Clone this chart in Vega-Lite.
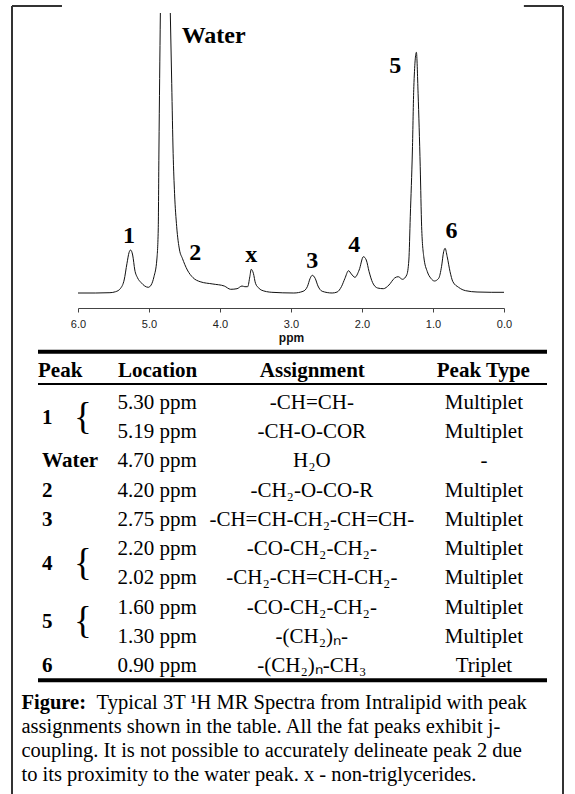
{
  "$schema": "https://vega.github.io/schema/vega-lite/v6.json",
  "width": 551,
  "height": 787,
  "autosize": "none",
  "padding": {"left": 12, "top": 6, "right": 12, "bottom": 1},
  "background": "white",
  "config": {"view": {"stroke": null}, "font": "Liberation Serif"},
  "datasets": {
    "spectrum": [
      {"seg": "a", "ppm": 6.00, "intensity": 0},
      {"seg": "a", "ppm": 5.75, "intensity": 0},
      {"seg": "a", "ppm": 5.55, "intensity": 0.3},
      {"seg": "a", "ppm": 5.47, "intensity": 1.3},
      {"seg": "a", "ppm": 5.40, "intensity": 4.7},
      {"seg": "a", "ppm": 5.35, "intensity": 13},
      {"seg": "a", "ppm": 5.31, "intensity": 29.7},
      {"seg": "a", "ppm": 5.28, "intensity": 40.7},
      {"seg": "a", "ppm": 5.26, "intensity": 43},
      {"seg": "a", "ppm": 5.23, "intensity": 38},
      {"seg": "a", "ppm": 5.20, "intensity": 23},
      {"seg": "a", "ppm": 5.16, "intensity": 15},
      {"seg": "a", "ppm": 5.11, "intensity": 10.3},
      {"seg": "a", "ppm": 5.06, "intensity": 7},
      {"seg": "a", "ppm": 5.01, "intensity": 5.7},
      {"seg": "a", "ppm": 4.97, "intensity": 8},
      {"seg": "a", "ppm": 4.93, "intensity": 16.3},
      {"seg": "a", "ppm": 4.89, "intensity": 33},
      {"seg": "a", "ppm": 4.87, "intensity": 63},
      {"seg": "a", "ppm": 4.86, "intensity": 143},
      {"seg": "a", "ppm": 4.84, "intensity": 280},
      {"seg": "b", "ppm": 4.70, "intensity": 280},
      {"seg": "b", "ppm": 4.68, "intensity": 209.7},
      {"seg": "b", "ppm": 4.66, "intensity": 139.7},
      {"seg": "b", "ppm": 4.64, "intensity": 99.7},
      {"seg": "b", "ppm": 4.61, "intensity": 66.3},
      {"seg": "b", "ppm": 4.57, "intensity": 43},
      {"seg": "b", "ppm": 4.53, "intensity": 34.7},
      {"seg": "b", "ppm": 4.46, "intensity": 23},
      {"seg": "b", "ppm": 4.38, "intensity": 15.3},
      {"seg": "b", "ppm": 4.28, "intensity": 11.3},
      {"seg": "b", "ppm": 4.10, "intensity": 9},
      {"seg": "b", "ppm": 3.94, "intensity": 7},
      {"seg": "b", "ppm": 3.85, "intensity": 3.7},
      {"seg": "b", "ppm": 3.76, "intensity": 4.3},
      {"seg": "b", "ppm": 3.69, "intensity": 7},
      {"seg": "b", "ppm": 3.65, "intensity": 6.3},
      {"seg": "b", "ppm": 3.61, "intensity": 6.3},
      {"seg": "b", "ppm": 3.58, "intensity": 16.3},
      {"seg": "b", "ppm": 3.56, "intensity": 23.7},
      {"seg": "b", "ppm": 3.53, "intensity": 19.7},
      {"seg": "b", "ppm": 3.50, "intensity": 9.7},
      {"seg": "b", "ppm": 3.45, "intensity": 4.7},
      {"seg": "b", "ppm": 3.42, "intensity": 3},
      {"seg": "b", "ppm": 3.27, "intensity": 0.7},
      {"seg": "b", "ppm": 2.96, "intensity": 0},
      {"seg": "b", "ppm": 2.83, "intensity": 1.7},
      {"seg": "b", "ppm": 2.77, "intensity": 6.3},
      {"seg": "b", "ppm": 2.73, "intensity": 14.7},
      {"seg": "b", "ppm": 2.70, "intensity": 17.7},
      {"seg": "b", "ppm": 2.66, "intensity": 14.7},
      {"seg": "b", "ppm": 2.62, "intensity": 7},
      {"seg": "b", "ppm": 2.56, "intensity": 1.7},
      {"seg": "b", "ppm": 2.42, "intensity": 0},
      {"seg": "b", "ppm": 2.35, "intensity": 1},
      {"seg": "b", "ppm": 2.29, "intensity": 6.3},
      {"seg": "b", "ppm": 2.24, "intensity": 14.7},
      {"seg": "b", "ppm": 2.19, "intensity": 22.3},
      {"seg": "b", "ppm": 2.15, "intensity": 19},
      {"seg": "b", "ppm": 2.10, "intensity": 15.7},
      {"seg": "b", "ppm": 2.04, "intensity": 23},
      {"seg": "b", "ppm": 1.98, "intensity": 36.3},
      {"seg": "b", "ppm": 1.94, "intensity": 33},
      {"seg": "b", "ppm": 1.90, "intensity": 21.3},
      {"seg": "b", "ppm": 1.85, "intensity": 10.3},
      {"seg": "b", "ppm": 1.78, "intensity": 5},
      {"seg": "b", "ppm": 1.70, "intensity": 4.3},
      {"seg": "b", "ppm": 1.62, "intensity": 8},
      {"seg": "b", "ppm": 1.54, "intensity": 15},
      {"seg": "b", "ppm": 1.49, "intensity": 16.3},
      {"seg": "b", "ppm": 1.43, "intensity": 13.7},
      {"seg": "b", "ppm": 1.37, "intensity": 18},
      {"seg": "b", "ppm": 1.34, "intensity": 33},
      {"seg": "b", "ppm": 1.32, "intensity": 76.3},
      {"seg": "b", "ppm": 1.29, "intensity": 143},
      {"seg": "b", "ppm": 1.27, "intensity": 206.3},
      {"seg": "b", "ppm": 1.234, "intensity": 240.7},
      {"seg": "b", "ppm": 1.21, "intensity": 199.7},
      {"seg": "b", "ppm": 1.18, "intensity": 126.3},
      {"seg": "b", "ppm": 1.16, "intensity": 66.3},
      {"seg": "b", "ppm": 1.13, "intensity": 36.3},
      {"seg": "b", "ppm": 1.08, "intensity": 21.3},
      {"seg": "b", "ppm": 1.03, "intensity": 14.7},
      {"seg": "b", "ppm": 0.98, "intensity": 12},
      {"seg": "b", "ppm": 0.92, "intensity": 14.7},
      {"seg": "b", "ppm": 0.88, "intensity": 26.3},
      {"seg": "b", "ppm": 0.85, "intensity": 41.3},
      {"seg": "b", "ppm": 0.83, "intensity": 44.7},
      {"seg": "b", "ppm": 0.80, "intensity": 36.3},
      {"seg": "b", "ppm": 0.76, "intensity": 21.3},
      {"seg": "b", "ppm": 0.72, "intensity": 11.3},
      {"seg": "b", "ppm": 0.64, "intensity": 5.7},
      {"seg": "b", "ppm": 0.54, "intensity": 2.3},
      {"seg": "b", "ppm": 0.38, "intensity": 1},
      {"seg": "b", "ppm": 0.18, "intensity": 0.7},
      {"seg": "b", "ppm": 0.00, "intensity": 0.7}
    ],
    "labels": [
      {"label": "Water", "ppm": 4.09, "intensity": 250},
      {"label": "1", "ppm": 5.28, "intensity": 50},
      {"label": "2", "ppm": 4.35, "intensity": 33},
      {"label": "x", "ppm": 3.56, "intensity": 31},
      {"label": "3", "ppm": 2.70, "intensity": 25},
      {"label": "4", "ppm": 2.11, "intensity": 41},
      {"label": "5", "ppm": 1.53, "intensity": 220},
      {"label": "6", "ppm": 0.74, "intensity": 55}
    ],
    "table": [
      {"row": 0, "peak": "1", "location": "5.30 ppm", "assignment": "-CH=CH-", "type": "Multiplet"},
      {"row": 1, "peak": "1", "location": "5.19 ppm", "assignment": "-CH-O-COR", "type": "Multiplet"},
      {"row": 2, "peak": "Water", "location": "4.70 ppm", "assignment": "H₂O", "type": "-"},
      {"row": 3, "peak": "2", "location": "4.20 ppm", "assignment": "-CH₂-O-CO-R", "type": "Multiplet"},
      {"row": 4, "peak": "3", "location": "2.75 ppm", "assignment": "-CH=CH-CH₂-CH=CH-", "type": "Multiplet"},
      {"row": 5, "peak": "4", "location": "2.20 ppm", "assignment": "-CO-CH₂-CH₂-", "type": "Multiplet"},
      {"row": 6, "peak": "4", "location": "2.02 ppm", "assignment": "-CH₂-CH=CH-CH₂-", "type": "Multiplet"},
      {"row": 7, "peak": "5", "location": "1.60 ppm", "assignment": "-CO-CH₂-CH₂-", "type": "Multiplet"},
      {"row": 8, "peak": "5", "location": "1.30 ppm", "assignment": "-(CH₂)ₙ-", "type": "Multiplet"},
      {"row": 9, "peak": "6", "location": "0.90 ppm", "assignment": "-(CH₂)ₙ-CH₃", "type": "Triplet"}
    ],
    "caption": [
      {"line": 1, "text": "Typical 3T ¹H MR Spectra from Intralipid with peak"},
      {"line": 2, "text": "assignments shown in the table. All the fat peaks exhibit j-"},
      {"line": 3, "text": "coupling. It is not possible to accurately delineate peak 2 due"},
      {"line": 4, "text": "to its proximity to the water peak. x - non-triglycerides."}
    ]
  },
  "layer": [
    {
      "data": {"name": "spectrum"},
      "mark": {"type": "line", "color": "#111", "strokeWidth": 1, "interpolate": "monotone"},
      "encoding": {
        "x": {"field": "ppm", "type": "quantitative",
          "scale": {"domain": [0, 6], "range": [492, 66], "nice": false, "zero": false},
          "axis": {"values": [0, 1, 2, 3, 4, 5, 6], "format": ".1f", "offset": -485, "title": "ppm", "grid": false,
            "domainColor": "#444", "tickColor": "#444", "tickSize": 4, "labelFont": "Liberation Sans", "labelFontSize": 11,
            "labelColor": "#222", "labelPadding": 6, "titleFont": "Liberation Sans", "titleFontSize": 12, "titleFontWeight": "bold",
            "titleColor": "#111", "titlePadding": 3, "labelFlush": false}},
        "y": {"field": "intensity", "type": "quantitative", "scale": {"domain": [0, 280], "range": [287, 7], "nice": false, "zero": false}, "axis": null},
        "detail": {"field": "seg", "type": "nominal"}
      }
    },
    {
      "data": {"name": "labels"},
      "mark": {"type": "text", "font": "Liberation Serif", "fontWeight": "bold", "fontSize": 24, "baseline": "alphabetic", "align": "center", "color": "black"},
      "encoding": {
        "x": {"field": "ppm", "type": "quantitative", "scale": {"domain": [0, 6], "range": [492, 66], "nice": false, "zero": false}, "axis": null},
        "y": {"field": "intensity", "type": "quantitative", "scale": {"domain": [0, 280], "range": [287, 7], "nice": false, "zero": false}, "axis": null},
        "text": {"field": "label"}
      }
    },
    {
      "data": {"values": [{}]},
      "mark": {"type": "rule", "color": "black", "strokeWidth": 4},
      "encoding": {
        "x": {"datum": 0, "type": "quantitative", "scale": {"domain": [0, 100], "range": [26, 535], "nice": false, "zero": false}, "axis": null},
        "x2": {"datum": 100},
        "y": {"datum": -1.75, "type": "quantitative", "scale": {"domain": [0, 9], "range": [397, 660], "nice": false, "zero": false}, "axis": null}
      }
    },
    {
      "data": {"values": [{}]},
      "mark": {"type": "rule", "color": "black", "strokeWidth": 2},
      "encoding": {
        "x": {"datum": 0, "type": "quantitative", "scale": {"domain": [0, 100], "range": [26, 535], "nice": false, "zero": false}, "axis": null},
        "x2": {"datum": 100},
        "y": {"datum": -0.65, "type": "quantitative", "scale": {"domain": [0, 9], "range": [397, 660], "nice": false, "zero": false}, "axis": null}
      }
    },
    {
      "data": {"values": [{}]},
      "mark": {"type": "rule", "color": "black", "strokeWidth": 4},
      "encoding": {
        "x": {"datum": 0, "type": "quantitative", "scale": {"domain": [0, 100], "range": [26, 535], "nice": false, "zero": false}, "axis": null},
        "x2": {"datum": 100},
        "y": {"datum": 9.49, "type": "quantitative", "scale": {"domain": [0, 9], "range": [397, 660], "nice": false, "zero": false}, "axis": null}
      }
    },
    {
      "data": {"values": [{"h": "Peak"}]},
      "mark": {"type": "text", "font": "Liberation Serif", "fontWeight": "bold", "fontSize": 21, "align": "left", "baseline": "middle", "color": "black"},
      "encoding": {
        "x": {"datum": 0, "type": "quantitative", "scale": {"domain": [0, 100], "range": [26, 535], "nice": false, "zero": false}, "axis": null},
        "y": {"datum": -1.08, "type": "quantitative", "scale": {"domain": [0, 9], "range": [397, 660], "nice": false, "zero": false}, "axis": null},
        "text": {"field": "h"}
      }
    },
    {
      "data": {"values": [{"h": "Location"}]},
      "mark": {"type": "text", "font": "Liberation Serif", "fontWeight": "bold", "fontSize": 21, "align": "center", "baseline": "middle", "color": "black"},
      "encoding": {
        "x": {"datum": 23.5, "type": "quantitative", "scale": {"domain": [0, 100], "range": [26, 535], "nice": false, "zero": false}, "axis": null},
        "y": {"datum": -1.08, "type": "quantitative", "scale": {"domain": [0, 9], "range": [397, 660], "nice": false, "zero": false}, "axis": null},
        "text": {"field": "h"}
      }
    },
    {
      "data": {"values": [{"h": "Assignment"}]},
      "mark": {"type": "text", "font": "Liberation Serif", "fontWeight": "bold", "fontSize": 21, "align": "center", "baseline": "middle", "color": "black"},
      "encoding": {
        "x": {"datum": 53.9, "type": "quantitative", "scale": {"domain": [0, 100], "range": [26, 535], "nice": false, "zero": false}, "axis": null},
        "y": {"datum": -1.08, "type": "quantitative", "scale": {"domain": [0, 9], "range": [397, 660], "nice": false, "zero": false}, "axis": null},
        "text": {"field": "h"}
      }
    },
    {
      "data": {"values": [{"h": "Peak Type"}]},
      "mark": {"type": "text", "font": "Liberation Serif", "fontWeight": "bold", "fontSize": 21, "align": "center", "baseline": "middle", "color": "black"},
      "encoding": {
        "x": {"datum": 87.5, "type": "quantitative", "scale": {"domain": [0, 100], "range": [26, 535], "nice": false, "zero": false}, "axis": null},
        "y": {"datum": -1.08, "type": "quantitative", "scale": {"domain": [0, 9], "range": [397, 660], "nice": false, "zero": false}, "axis": null},
        "text": {"field": "h"}
      }
    },
    {
      "data": {"name": "table"},
      "transform": [{"aggregate": [{"op": "mean", "field": "row", "as": "mid"}], "groupby": ["peak"]}],
      "mark": {"type": "text", "font": "Liberation Serif", "fontWeight": "bold", "fontSize": 21, "align": "left", "baseline": "middle", "color": "black"},
      "encoding": {
        "x": {"datum": 0.8, "type": "quantitative", "scale": {"domain": [0, 100], "range": [26, 535], "nice": false, "zero": false}, "axis": null},
        "y": {"field": "mid", "type": "quantitative", "scale": {"domain": [0, 9], "range": [397, 660], "nice": false, "zero": false}, "axis": null},
        "text": {"field": "peak"}
      }
    },
    {
      "data": {"name": "table"},
      "transform": [
        {"aggregate": [{"op": "mean", "field": "row", "as": "mid"}, {"op": "count", "as": "n"}], "groupby": ["peak"]},
        {"filter": "datum.n > 1"}
      ],
      "mark": {"type": "text", "font": "Liberation Serif", "fontSize": 37, "align": "center", "baseline": "middle", "color": "black"},
      "encoding": {
        "x": {"datum": 8.84, "type": "quantitative", "scale": {"domain": [0, 100], "range": [26, 535], "nice": false, "zero": false}, "axis": null},
        "y": {"field": "mid", "type": "quantitative", "scale": {"domain": [0, 9], "range": [397, 660], "nice": false, "zero": false}, "axis": null},
        "text": {"value": "{"}
      }
    },
    {
      "data": {"name": "table"},
      "mark": {"type": "text", "font": "Liberation Serif", "fontSize": 21, "align": "center", "baseline": "middle", "color": "black"},
      "encoding": {
        "x": {"datum": 23.4, "type": "quantitative", "scale": {"domain": [0, 100], "range": [26, 535], "nice": false, "zero": false}, "axis": null},
        "y": {"field": "row", "type": "quantitative", "scale": {"domain": [0, 9], "range": [397, 660], "nice": false, "zero": false}, "axis": null},
        "text": {"field": "location"}
      }
    },
    {
      "data": {"name": "table"},
      "mark": {"type": "text", "font": "Liberation Serif", "fontSize": 21, "align": "center", "baseline": "middle", "color": "black"},
      "encoding": {
        "x": {"datum": 53.8, "type": "quantitative", "scale": {"domain": [0, 100], "range": [26, 535], "nice": false, "zero": false}, "axis": null},
        "y": {"field": "row", "type": "quantitative", "scale": {"domain": [0, 9], "range": [397, 660], "nice": false, "zero": false}, "axis": null},
        "text": {"field": "assignment"}
      }
    },
    {
      "data": {"name": "table"},
      "mark": {"type": "text", "font": "Liberation Serif", "fontSize": 21, "align": "center", "baseline": "middle", "color": "black"},
      "encoding": {
        "x": {"datum": 87.6, "type": "quantitative", "scale": {"domain": [0, 100], "range": [26, 535], "nice": false, "zero": false}, "axis": null},
        "y": {"field": "row", "type": "quantitative", "scale": {"domain": [0, 9], "range": [397, 660], "nice": false, "zero": false}, "axis": null},
        "text": {"field": "type"}
      }
    },
    {
      "data": {"values": [{"t": "Figure:"}]},
      "mark": {"type": "text", "font": "Liberation Serif", "fontWeight": "bold", "fontSize": 20.5, "align": "left", "baseline": "middle", "color": "black"},
      "encoding": {
        "x": {"datum": 0, "type": "quantitative", "scale": {"domain": [0, 100], "range": [9.5, 546], "nice": false, "zero": false}, "axis": null},
        "y": {"datum": 1, "type": "quantitative", "scale": {"domain": [1, 4], "range": [697, 769], "nice": false, "zero": false}, "axis": null},
        "text": {"field": "t"}
      }
    },
    {
      "data": {"name": "caption"},
      "transform": [{"filter": "datum.line == 1"}],
      "mark": {"type": "text", "font": "Liberation Serif", "fontSize": 20.5, "align": "left", "baseline": "middle", "color": "black"},
      "encoding": {
        "x": {"datum": 14, "type": "quantitative", "scale": {"domain": [0, 100], "range": [9.5, 546], "nice": false, "zero": false}, "axis": null},
        "y": {"field": "line", "type": "quantitative", "scale": {"domain": [1, 4], "range": [697, 769], "nice": false, "zero": false}, "axis": null},
        "text": {"field": "text"}
      }
    },
    {
      "data": {"name": "caption"},
      "transform": [{"filter": "datum.line > 1"}],
      "mark": {"type": "text", "font": "Liberation Serif", "fontSize": 20.5, "align": "left", "baseline": "middle", "color": "black"},
      "encoding": {
        "x": {"datum": 0, "type": "quantitative", "scale": {"domain": [0, 100], "range": [9.5, 546], "nice": false, "zero": false}, "axis": null},
        "y": {"field": "line", "type": "quantitative", "scale": {"domain": [1, 4], "range": [697, 769], "nice": false, "zero": false}, "axis": null},
        "text": {"field": "text"}
      }
    },
    {
      "data": {"values": [{}]},
      "mark": {"type": "rule", "color": "#333", "strokeWidth": 2},
      "encoding": {
        "x": {"datum": 0, "type": "quantitative", "scale": {"domain": [0, 1], "range": [0, 551], "nice": false, "zero": false}, "axis": null},
        "y": {"datum": 0, "type": "quantitative", "scale": {"domain": [0, 1], "range": [0, 788], "nice": false, "zero": false}, "axis": null},
        "y2": {"datum": 1}
      }
    },
    {
      "data": {"values": [{}]},
      "mark": {"type": "rule", "color": "#333", "strokeWidth": 2},
      "encoding": {
        "x": {"datum": 1, "type": "quantitative", "scale": {"domain": [0, 1], "range": [0, 551], "nice": false, "zero": false}, "axis": null},
        "y": {"datum": 0, "type": "quantitative", "scale": {"domain": [0, 1], "range": [0, 788], "nice": false, "zero": false}, "axis": null},
        "y2": {"datum": 1}
      }
    },
    {
      "data": {"values": [{}]},
      "mark": {"type": "rule", "color": "#333", "strokeWidth": 2},
      "encoding": {
        "x": {"datum": 0, "type": "quantitative", "scale": {"domain": [0, 1], "range": [0, 551], "nice": false, "zero": false}, "axis": null},
        "x2": {"datum": 0.0907},
        "y": {"datum": 0, "type": "quantitative", "scale": {"domain": [0, 1], "range": [0, 788], "nice": false, "zero": false}, "axis": null}
      }
    },
    {
      "data": {"values": [{}]},
      "mark": {"type": "rule", "color": "#333", "strokeWidth": 2},
      "encoding": {
        "x": {"datum": 0.929, "type": "quantitative", "scale": {"domain": [0, 1], "range": [0, 551], "nice": false, "zero": false}, "axis": null},
        "x2": {"datum": 1},
        "y": {"datum": 0, "type": "quantitative", "scale": {"domain": [0, 1], "range": [0, 788], "nice": false, "zero": false}, "axis": null}
      }
    }
  ],
  "resolve": {"scale": {"x": "independent", "y": "independent"}}
}
